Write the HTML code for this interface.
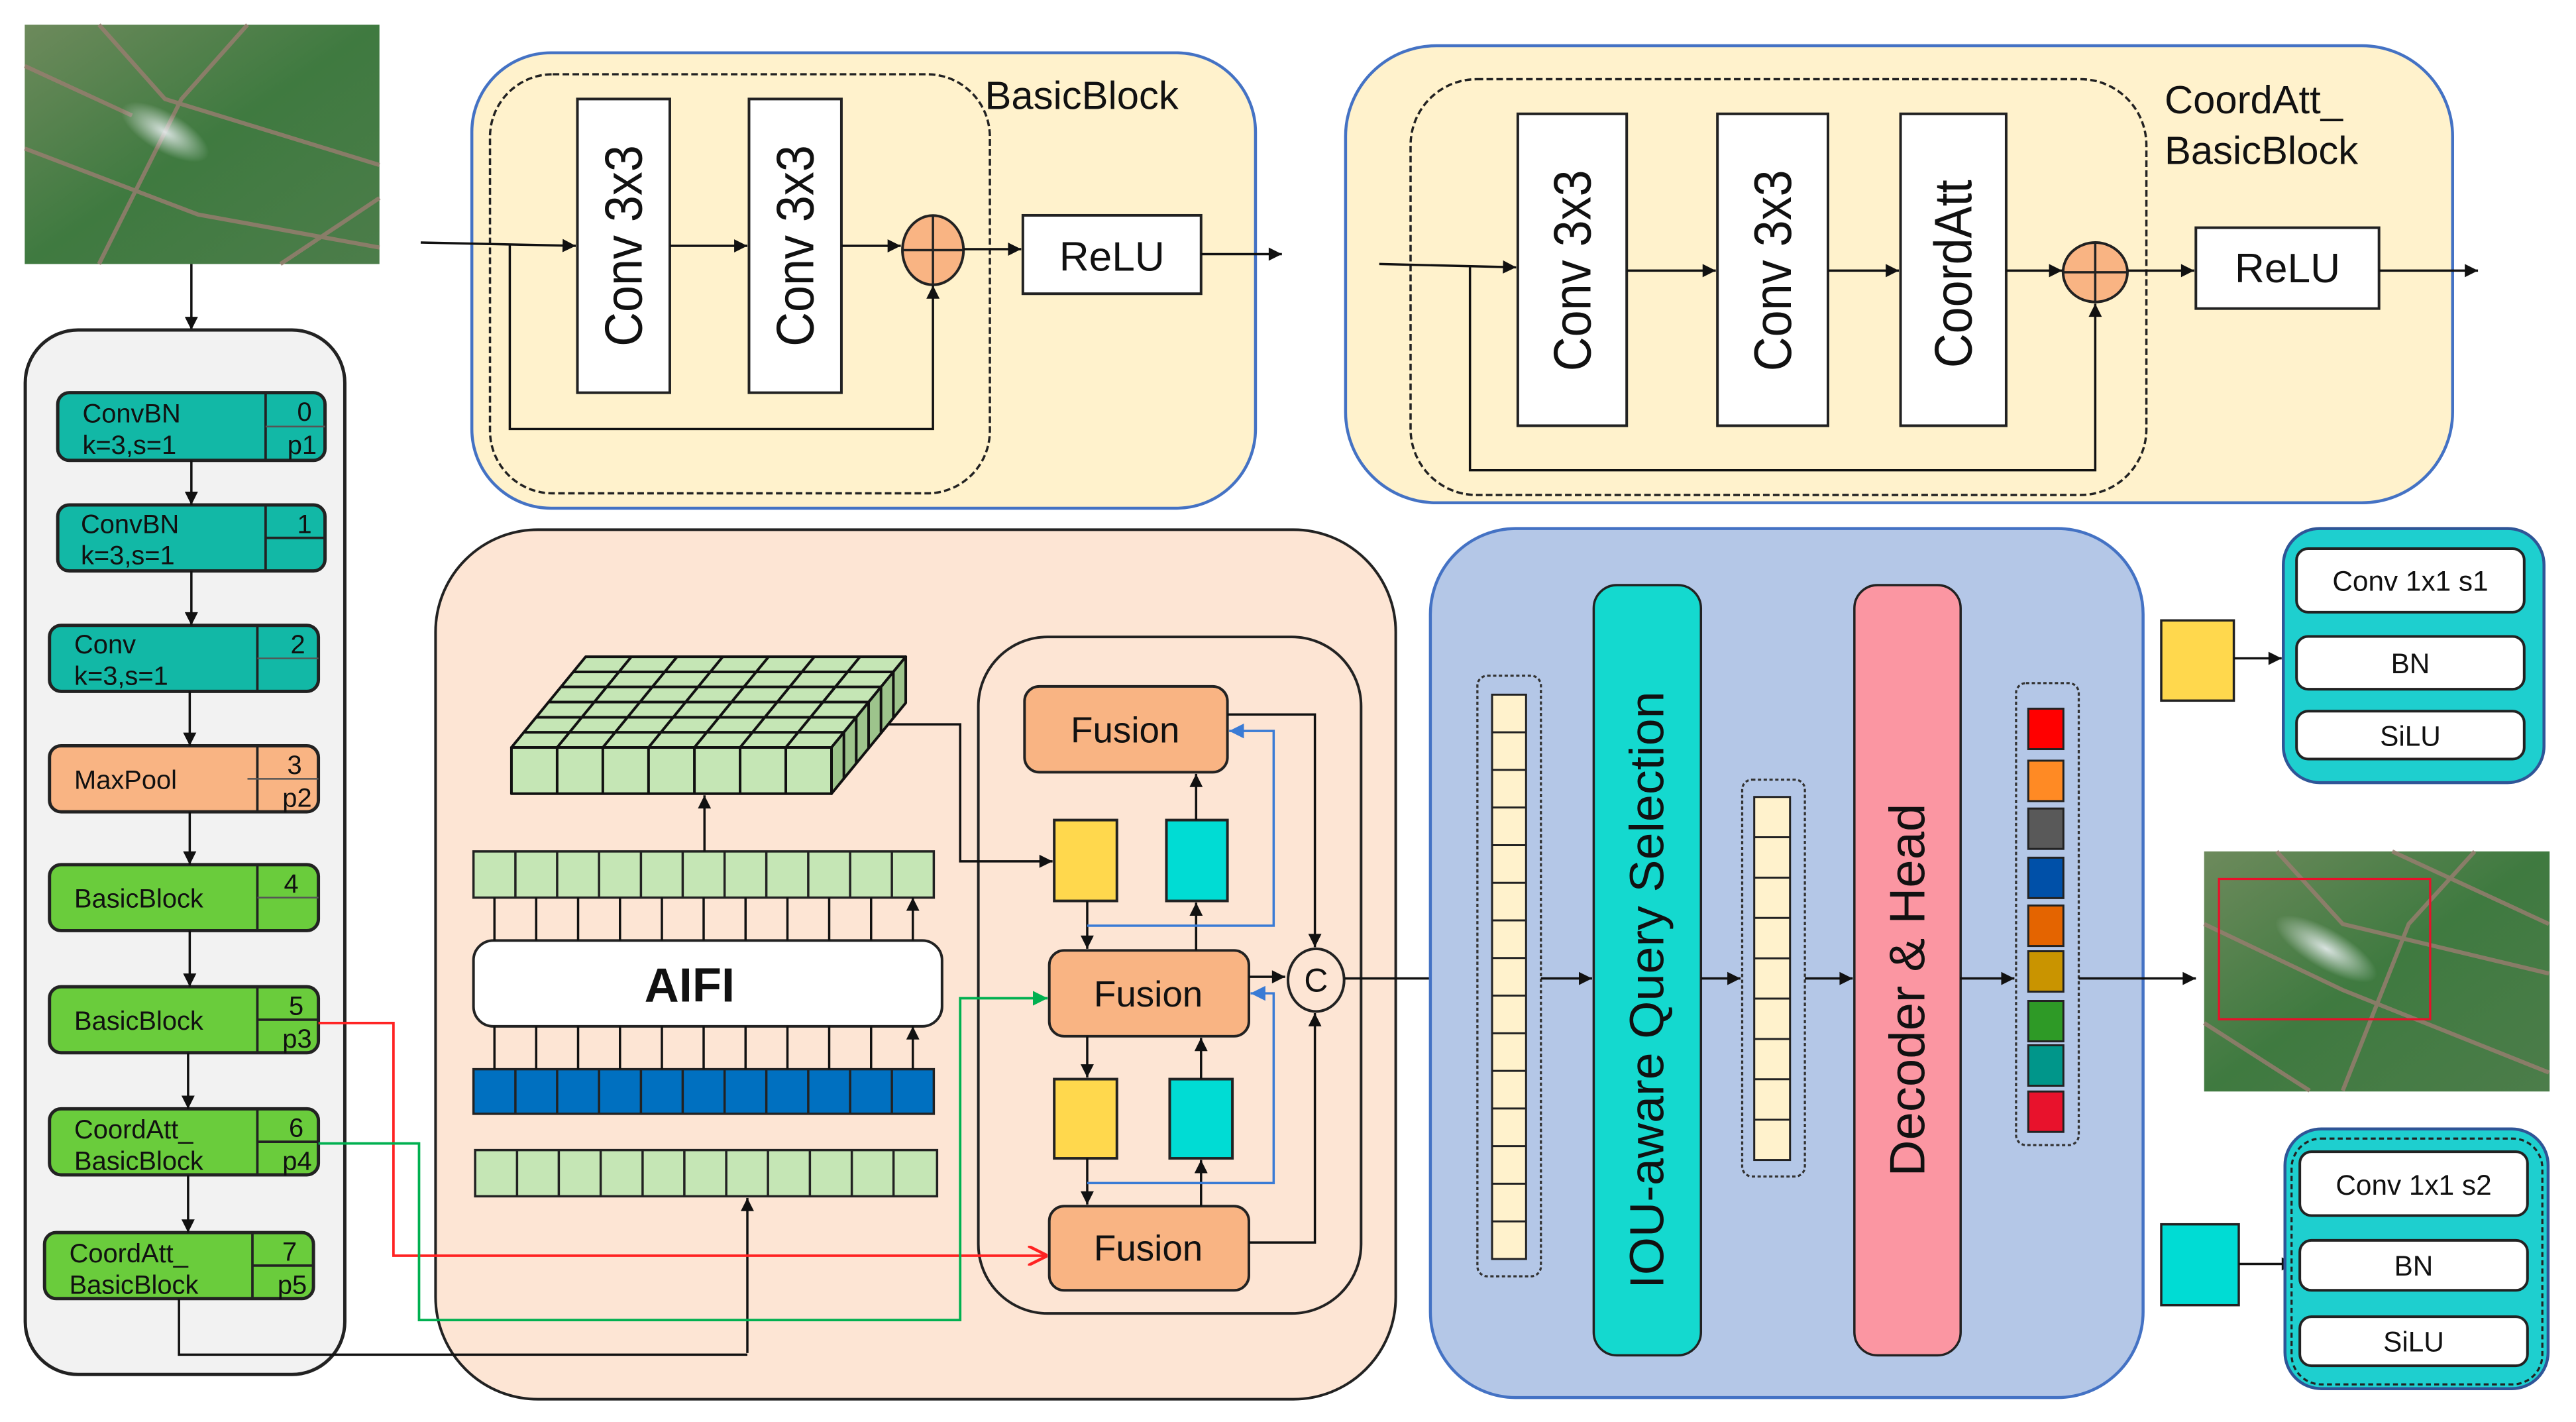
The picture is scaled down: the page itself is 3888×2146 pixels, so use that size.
<!DOCTYPE html>
<html><head><meta charset="utf-8"><style>
html,body{margin:0;padding:0;background:#fff;}
svg{display:block;}
text{font-family:"Liberation Sans",sans-serif;fill:#111;}
</style></head><body>
<svg width="3888" height="2146" viewBox="0 0 1561.4 861.8" preserveAspectRatio="none" xmlns="http://www.w3.org/2000/svg">
<defs>
<marker id="a" viewBox="0 0 10 10" refX="10" refY="5" markerWidth="9" markerHeight="8" markerUnits="userSpaceOnUse" orient="auto"><path d="M0,0L10,5L0,10z" fill="#111"/></marker>
<marker id="r" viewBox="0 0 10 10" refX="10" refY="5" markerWidth="12" markerHeight="12" markerUnits="userSpaceOnUse" orient="auto"><path d="M0,0L10,5L0,10" fill="none" stroke="#f22" stroke-width="1.5"/></marker>
<marker id="g" viewBox="0 0 10 10" refX="10" refY="5" markerWidth="9" markerHeight="9" markerUnits="userSpaceOnUse" orient="auto"><path d="M0,0L10,5L0,10z" fill="#00b050"/></marker>
<marker id="b" viewBox="0 0 10 10" refX="10" refY="5" markerWidth="9" markerHeight="9" markerUnits="userSpaceOnUse" orient="auto"><path d="M0,0L10,5L0,10z" fill="#3a7bd5"/></marker>
<linearGradient id="ph" x1="0" y1="0" x2="1" y2="1"><stop offset="0" stop-color="#6d8a5c"/><stop offset="0.5" stop-color="#3f7a40"/><stop offset="1" stop-color="#4c7d4a"/></linearGradient>
<radialGradient id="sm" cx="0.5" cy="0.5" r="0.5"><stop offset="0" stop-color="#e8eef0" stop-opacity="0.9"/><stop offset="1" stop-color="#e8eef0" stop-opacity="0"/></radialGradient>
</defs>

<!-- input photo -->
<rect x="15" y="15" width="215" height="145" fill="url(#ph)"/>
<path d="M15,90 L120,130 L230,150 M60,15 L100,60 L230,100 M150,15 L110,60 L60,160 M15,40 L80,70 M170,160 L230,120" stroke="#9a7d70" stroke-width="2.5" fill="none" opacity="0.8"/>
<ellipse cx="100" cy="80" rx="30" ry="12" fill="url(#sm)" transform="rotate(30 100 80)"/>
<line x1="116" y1="160" x2="116" y2="200" stroke="#111" stroke-width="1.4" marker-end="url(#a)"/>

<!-- backbone -->
<rect x="15.3" y="200" width="193.7" height="633" rx="32" fill="#f2f2f2" stroke="#222" stroke-width="2"/>
<g stroke="#222" stroke-width="2">
<rect x="35" y="238" width="162" height="41" rx="7" fill="#12b8a6"/>
<rect x="35" y="306" width="162" height="40" rx="7" fill="#12b8a6"/>
<rect x="30" y="379" width="163" height="40" rx="7" fill="#12b8a6"/>
<rect x="30" y="452" width="163" height="40" rx="7" fill="#f9b483"/>
<rect x="30" y="524" width="163" height="40" rx="7" fill="#6acc3c"/>
<rect x="30" y="598" width="163" height="40" rx="7" fill="#6acc3c"/>
<rect x="30" y="672" width="163" height="40" rx="7" fill="#6acc3c"/>
<rect x="27" y="747" width="163" height="40" rx="7" fill="#6acc3c"/>
</g>
<g stroke="#222" stroke-width="1.5">
<line x1="161" y1="238" x2="161" y2="279"/><line x1="161" y1="258.5" x2="197" y2="258.5" stroke="#555" stroke-width="1"/>
<line x1="161" y1="306" x2="161" y2="346"/><line x1="161" y1="326" x2="197" y2="326"/>
<line x1="156" y1="379" x2="156" y2="419"/><line x1="156" y1="399" x2="193" y2="399" stroke="#555" stroke-width="1"/>
<line x1="156" y1="452" x2="156" y2="492"/><line x1="150" y1="472" x2="193" y2="472" stroke="#555" stroke-width="1"/>
<line x1="156" y1="524" x2="156" y2="564"/><line x1="156" y1="544" x2="193" y2="544" stroke="#555" stroke-width="1"/>
<line x1="156" y1="598" x2="156" y2="638"/><line x1="156" y1="618" x2="193" y2="618"/>
<line x1="156" y1="672" x2="156" y2="712"/><line x1="156" y1="692" x2="193" y2="692"/>
<line x1="153" y1="747" x2="153" y2="787"/><line x1="153" y1="767" x2="190" y2="767"/>
</g>
<g font-size="16">
<text x="50" y="256">ConvBN</text><text x="50" y="275">k=3,s=1</text>
<text x="49" y="323">ConvBN</text><text x="49" y="342">k=3,s=1</text>
<text x="45" y="396">Conv</text><text x="45" y="415">k=3,s=1</text>
<text x="45" y="478">MaxPool</text>
<text x="45" y="550">BasicBlock</text>
<text x="45" y="624">BasicBlock</text>
<text x="45" y="690">CoordAtt_</text><text x="45" y="709">BasicBlock</text>
<text x="42" y="765">CoordAtt_</text><text x="42" y="784">BasicBlock</text>
</g>
<g font-size="16" text-anchor="end">
<text x="189" y="255">0</text><text x="192" y="275">p1</text>
<text x="189" y="323">1</text>
<text x="185" y="396">2</text>
<text x="183" y="469">3</text><text x="189" y="489">p2</text>
<text x="181" y="541">4</text>
<text x="184" y="615">5</text><text x="189" y="635">p3</text>
<text x="184" y="689">6</text><text x="189" y="709">p4</text>
<text x="180" y="764">7</text><text x="186" y="784">p5</text>
</g>
<g stroke="#111" stroke-width="1.4" marker-end="url(#a)">
<line x1="116" y1="279" x2="116" y2="306"/>
<line x1="116" y1="346" x2="116" y2="379"/>
<line x1="115" y1="419" x2="115" y2="452"/>
<line x1="115" y1="492" x2="115" y2="524"/>
<line x1="115" y1="564" x2="115" y2="598"/>
<line x1="114" y1="638" x2="114" y2="672"/>
<line x1="114" y1="712" x2="114" y2="747"/>
</g>

<!-- BasicBlock top -->
<rect x="286" y="32" width="475" height="276" rx="48" fill="#fff2cc" stroke="#4472c4" stroke-width="1.8"/>
<rect x="297" y="45" width="303" height="254" rx="38" fill="none" stroke="#222" stroke-width="1.4" stroke-dasharray="4,2"/>
<text x="597" y="66" font-size="24">BasicBlock</text>
<rect x="350" y="60" width="56" height="178" fill="#fff" stroke="#222" stroke-width="1.6"/>
<rect x="454" y="60" width="56" height="178" fill="#fff" stroke="#222" stroke-width="1.6"/>
<text transform="translate(378,149) rotate(-90)" text-anchor="middle" dominant-baseline="central" font-size="32" textLength="122" lengthAdjust="spacingAndGlyphs">Conv 3x3</text>
<text transform="translate(482,149) rotate(-90)" text-anchor="middle" dominant-baseline="central" font-size="32" textLength="122" lengthAdjust="spacingAndGlyphs">Conv 3x3</text>
<ellipse cx="565.5" cy="151.6" rx="18.5" ry="21" fill="#f9b483" stroke="#222" stroke-width="1.6"/>
<path d="M547,151.6H584M565.5,130.6V172.6" stroke="#222" stroke-width="1.4"/>
<rect x="620" y="130.5" width="108" height="47.5" fill="#fff" stroke="#222" stroke-width="1.6"/>
<text x="674" y="164" font-size="25" text-anchor="middle">ReLU</text>
<g stroke="#111" stroke-width="1.4" fill="none" marker-end="url(#a)">
<path d="M255,147 L349,149"/>
<path d="M406,149 H453"/>
<path d="M510,149 H546"/>
<path d="M584,151 H619"/>
<path d="M728,154 H777"/>
<path d="M309,148 V260 H565.5 V173"/>
</g>

<!-- CoordAtt block -->
<rect x="815.6" y="27.7" width="671" height="277" rx="55" fill="#fff2cc" stroke="#4472c4" stroke-width="1.8"/>
<rect x="855" y="48" width="446" height="252" rx="40" fill="none" stroke="#222" stroke-width="1.4" stroke-dasharray="4,2"/>
<text x="1312" y="68.6" font-size="24">CoordAtt_</text>
<text x="1312" y="99.4" font-size="24">BasicBlock</text>
<rect x="920" y="69" width="66" height="189" fill="#fff" stroke="#222" stroke-width="1.6"/>
<rect x="1041" y="69" width="67" height="189" fill="#fff" stroke="#222" stroke-width="1.6"/>
<rect x="1152" y="69" width="64" height="189" fill="#fff" stroke="#222" stroke-width="1.6"/>
<text transform="translate(953,164) rotate(-90)" text-anchor="middle" dominant-baseline="central" font-size="32" textLength="122" lengthAdjust="spacingAndGlyphs">Conv 3x3</text>
<text transform="translate(1074.5,164) rotate(-90)" text-anchor="middle" dominant-baseline="central" font-size="32" textLength="122" lengthAdjust="spacingAndGlyphs">Conv 3x3</text>
<text transform="translate(1184,166) rotate(-90)" text-anchor="middle" dominant-baseline="central" font-size="32" textLength="114" lengthAdjust="spacingAndGlyphs">CoordAtt</text>
<ellipse cx="1270" cy="165" rx="19.5" ry="18" fill="#f9b483" stroke="#222" stroke-width="1.6"/>
<path d="M1250.5,165H1289.5M1270,147V183" stroke="#222" stroke-width="1.4"/>
<rect x="1331" y="138" width="111" height="49" fill="#fff" stroke="#222" stroke-width="1.6"/>
<text x="1386.5" y="171" font-size="25" text-anchor="middle">ReLU</text>
<g stroke="#111" stroke-width="1.4" fill="none" marker-end="url(#a)">
<path d="M836,160 L919,162"/>
<path d="M986,164 H1040"/>
<path d="M1108,164 H1151"/>
<path d="M1216,164 H1250"/>
<path d="M1290,164 H1330"/>
<path d="M1442,164 H1502"/>
<path d="M891,162 V285 H1270 V184"/>
</g>

<!-- Peach encoder -->
<rect x="264" y="321" width="582" height="527" rx="62" fill="#fde5d4" stroke="#222" stroke-width="1.6"/>
<rect x="593" y="386" width="232" height="410" rx="42" fill="none" stroke="#222" stroke-width="1.6"/>

<!-- 3D grid -->
<g stroke="#111" stroke-width="1.6" stroke-linejoin="round">
<polygon points="310,453 504,453 549,398 355,398" fill="#c5e6b5"/>
<polygon points="504,453 549,398 549,426 504,481" fill="#9dc48c"/>
<rect x="310" y="453" width="194" height="28" fill="#c5e6b5"/>
<path d="M317.5,443.8H511.5M325,434.7H519M332.5,425.5H526.5M340,416.3H534M347.5,407.2H541.5" fill="none"/>
<path d="M337.7,453L382.7,398M365.4,453L410.4,398M393.1,453L438.1,398M420.9,453L465.9,398M448.6,453L493.6,398M476.3,453L521.3,398" fill="none"/>
<path d="M337.7,453V481M365.4,453V481M393.1,453V481M420.9,453V481M448.6,453V481M476.3,453V481" fill="none"/>
<path d="M511.5,443.8V471.8M519,434.7V462.7M526.5,425.5V453.5M534,416.3V444.3M541.5,407.2V435.2" fill="none"/>
</g>

<!-- token rows -->
<g stroke="#222" stroke-width="1.4">
<rect x="287" y="516" width="279" height="28" fill="#c5e6b5"/>
<path d="M312.4,516V544M337.7,516V544M363.1,516V544M388.5,516V544M413.8,516V544M439.2,516V544M464.5,516V544M489.9,516V544M515.3,516V544M540.6,516V544"/>
<rect x="287" y="648" width="279" height="27" fill="#0070c0"/>
<path d="M312.4,648V675M337.7,648V675M363.1,648V675M388.5,648V675M413.8,648V675M439.2,648V675M464.5,648V675M489.9,648V675M515.3,648V675M540.6,648V675"/>
<rect x="288" y="697" width="280" height="28" fill="#c5e6b5"/>
<path d="M313.4,697V725M338.7,697V725M364.1,697V725M389.5,697V725M414.8,697V725M440.2,697V725M465.5,697V725M490.9,697V725M516.3,697V725M541.6,697V725"/>
</g>
<rect x="287" y="570" width="284" height="52" rx="12" fill="#fff" stroke="#222" stroke-width="1.6"/>
<text x="418" y="607" font-size="29" font-weight="bold" text-anchor="middle">AIFI</text>
<g stroke="#111" stroke-width="1.4" marker-end="url(#a)">
<path d="M299.7,570V544M325,570V544M350.4,570V544M375.8,570V544M401.2,570V544M426.5,570V544M451.9,570V544M477.3,570V544M502.6,570V544M528,570V544M553.3,570V544"/>
<path d="M299.7,648V622M325,648V622M350.4,648V622M375.8,648V622M401.2,648V622M426.5,648V622M451.9,648V622M477.3,648V622M502.6,648V622M528,648V622M553.3,648V622"/>
<path d="M427,516V482"/>
</g>

<!-- fusion -->
<g stroke="#222" stroke-width="1.6">
<rect x="621" y="416" width="123" height="52" rx="9" fill="#f9b483"/>
<rect x="636" y="576" width="121" height="52" rx="9" fill="#f9b483"/>
<rect x="636" y="731" width="121" height="51" rx="9" fill="#f9b483"/>
<rect x="639" y="497" width="38" height="49" fill="#ffd84d"/>
<rect x="707" y="497" width="37" height="49" fill="#00dcd4"/>
<rect x="639" y="654" width="38" height="48" fill="#ffd84d"/>
<rect x="709" y="654" width="38" height="48" fill="#00dcd4"/>
<ellipse cx="797.7" cy="594" rx="17" ry="19" fill="#fde5d4"/>
</g>
<text x="682" y="450" font-size="22" text-anchor="middle">Fusion</text>
<text x="696" y="610" font-size="22" text-anchor="middle">Fusion</text>
<text x="696" y="764" font-size="22" text-anchor="middle">Fusion</text>
<text x="797.7" y="601" font-size="20" text-anchor="middle">C</text>
<g stroke="#111" stroke-width="1.4" fill="none" marker-end="url(#a)">
<path d="M538,439 H582 V522 H638"/>
<path d="M659,546 V575"/>
<path d="M725,576 V547"/>
<path d="M725,497 V469"/>
<path d="M659,628 V653"/>
<path d="M659,702 V730"/>
<path d="M728,731 V703"/>
<path d="M728,654 V629"/>
<path d="M744,433 H797 V574"/>
<path d="M757,592 H779"/>
<path d="M757,753 H797 V614"/>
<path d="M453,820 V726"/>
<path d="M815,593 H894"/>
</g>
<g stroke="#3a7bd5" stroke-width="1.4" fill="none" marker-end="url(#b)">
<path d="M659,561 H772 V443 H745"/>
<path d="M659,717 H772 V602 H758"/>
</g>
<path d="M193,620 H238.5 V761 H635" stroke="#f22" stroke-width="1.5" fill="none" marker-end="url(#r)"/>
<path d="M193,693 H254 V800 H582 V605 H635" stroke="#00b050" stroke-width="1.5" fill="none" marker-end="url(#g)"/>
<path d="M108.5,787 V821 H453" stroke="#111" stroke-width="1.4" fill="none"/>

<!-- decoder region -->
<rect x="867" y="320.3" width="432" height="526.7" rx="52" fill="#b4c7e7" stroke="#4472c4" stroke-width="1.8"/>
<rect x="895.5" y="409.5" width="38.5" height="364" rx="6" fill="none" stroke="#333" stroke-width="1.3" stroke-dasharray="2,1.5"/>
<rect x="904.4" y="421" width="20.6" height="342" fill="#fff2cc" stroke="#222" stroke-width="1.2"/>
<path d="M904.4,443.8H925M904.4,466.6H925M904.4,489.4H925M904.4,512.2H925M904.4,535H925M904.4,557.8H925M904.4,580.6H925M904.4,603.4H925M904.4,626.2H925M904.4,649H925M904.4,671.8H925M904.4,694.6H925M904.4,717.4H925M904.4,740.2H925" stroke="#222" stroke-width="1.2"/>
<rect x="966" y="354.6" width="65" height="466.8" rx="14" fill="#14d9cf" stroke="#222" stroke-width="1.4"/>
<text transform="translate(998.5,600) rotate(-90)" text-anchor="middle" dominant-baseline="central" font-size="29" textLength="362" lengthAdjust="spacingAndGlyphs">IOU-aware Query Selection</text>
<rect x="1056" y="472.5" width="38" height="240.5" rx="6" fill="none" stroke="#333" stroke-width="1.3" stroke-dasharray="2,1.5"/>
<rect x="1063.3" y="483" width="21.7" height="220" fill="#fff2cc" stroke="#222" stroke-width="1.2"/>
<path d="M1063.3,507.4H1085M1063.3,531.9H1085M1063.3,556.3H1085M1063.3,580.8H1085M1063.3,605.2H1085M1063.3,629.7H1085M1063.3,654.1H1085M1063.3,678.6H1085" stroke="#222" stroke-width="1.2"/>
<rect x="1124" y="354.6" width="64.4" height="466.8" rx="14" fill="#fb96a2" stroke="#222" stroke-width="1.4"/>
<text transform="translate(1156,600) rotate(-90)" text-anchor="middle" dominant-baseline="central" font-size="30" textLength="226" lengthAdjust="spacingAndGlyphs">Decoder &amp; Head</text>
<rect x="1222" y="414" width="38" height="280" rx="6" fill="none" stroke="#333" stroke-width="1.3" stroke-dasharray="2,1.5"/>
<g stroke="#222" stroke-width="1.2">
<rect x="1229.4" y="429.5" width="21.3" height="24.5" fill="#ff0000"/>
<rect x="1229.4" y="461" width="21.3" height="24.5" fill="#ff8a24"/>
<rect x="1229.4" y="490" width="21.3" height="24.5" fill="#595959"/>
<rect x="1229.4" y="519.8" width="21.3" height="24.5" fill="#0050a8"/>
<rect x="1229.4" y="548.8" width="21.3" height="24.5" fill="#e46400"/>
<rect x="1229.4" y="576.5" width="21.3" height="24.5" fill="#c99400"/>
<rect x="1229.4" y="606.6" width="21.3" height="24.5" fill="#2e9a26"/>
<rect x="1229.4" y="633.5" width="21.3" height="24.5" fill="#00968a"/>
<rect x="1229.4" y="661.5" width="21.3" height="24.5" fill="#e8122c"/>
</g>
<g stroke="#111" stroke-width="1.4" fill="none" marker-end="url(#a)">
<path d="M934,593 H965"/>
<path d="M1031,593 H1055"/>
<path d="M1094,593 H1123"/>
<path d="M1188,593 H1221"/>
<path d="M1260,593 H1331"/>
</g>

<!-- output photo -->
<rect x="1336" y="516" width="209.4" height="145.5" fill="url(#ph)"/>
<path d="M1336,560 L1420,600 L1545,650 M1380,516 L1420,560 L1545,590 M1500,516 L1460,560 L1420,661 M1336,620 L1400,661 M1450,516 L1545,560" stroke="#9a7d70" stroke-width="2.5" fill="none" opacity="0.8"/>
<ellipse cx="1410" cy="575" rx="35" ry="12" fill="url(#sm)" transform="rotate(30 1410 575)"/>
<rect x="1345" y="532.7" width="128" height="85" fill="none" stroke="#e8102a" stroke-width="1.3"/>

<!-- right modules -->
<rect x="1310" y="376" width="44" height="48.6" fill="#ffd84d" stroke="#222" stroke-width="1.4"/>
<path d="M1354,399 H1383" stroke="#111" stroke-width="1.4" marker-end="url(#a)"/>
<rect x="1384" y="320.3" width="158" height="154" rx="22" fill="#1ecfcf" stroke="#2f5597" stroke-width="1.8"/>
<g stroke="#222" stroke-width="1.6" fill="#fff">
<rect x="1392" y="332.5" width="138" height="38.5" rx="7"/>
<rect x="1392" y="385.7" width="138" height="32" rx="7"/>
<rect x="1392" y="431" width="138" height="29" rx="7"/>
</g>
<text x="1461" y="358" font-size="17" text-anchor="middle">Conv 1x1 s1</text>
<text x="1461" y="408" font-size="17" text-anchor="middle">BN</text>
<text x="1461" y="452" font-size="17" text-anchor="middle">SiLU</text>

<rect x="1310" y="742" width="47" height="49" fill="#00dcd4" stroke="#222" stroke-width="1.4"/>
<path d="M1357,766 H1391" stroke="#111" stroke-width="1.4" marker-end="url(#a)"/>
<rect x="1385" y="684.2" width="159.5" height="157.4" rx="22" fill="#1ecfcf" stroke="#2f5597" stroke-width="1.8"/>
<rect x="1389" y="690" width="152" height="149" rx="18" fill="none" stroke="#222" stroke-width="1.3" stroke-dasharray="3,2"/>
<g stroke="#222" stroke-width="1.6" fill="#fff">
<rect x="1394" y="698" width="138" height="38.7" rx="7"/>
<rect x="1394" y="751.7" width="138" height="30.3" rx="7"/>
<rect x="1394" y="798" width="138" height="29.7" rx="7"/>
</g>
<text x="1463" y="724" font-size="17" text-anchor="middle">Conv 1x1 s2</text>
<text x="1463" y="773" font-size="17" text-anchor="middle">BN</text>
<text x="1463" y="819" font-size="17" text-anchor="middle">SiLU</text>
</svg>
</body></html>
